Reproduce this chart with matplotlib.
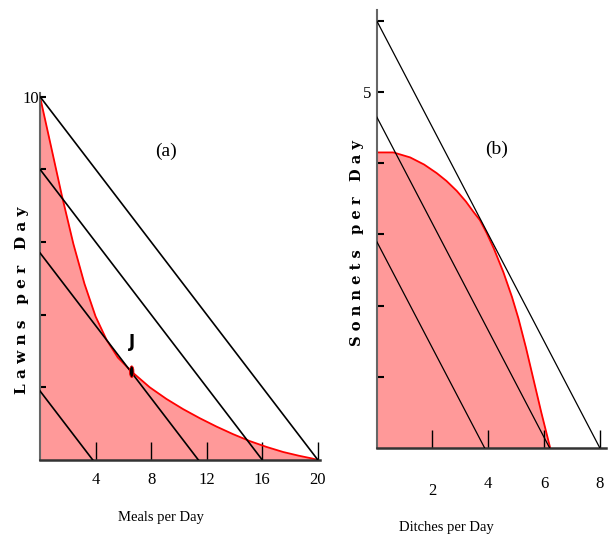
import matplotlib
matplotlib.use("Agg")
import matplotlib.pyplot as plt
import matplotlib.transforms as mtransforms
from matplotlib.patches import Ellipse

# ---------------- data ----------------
# Panel (a): production possibility curve (Meals vs Lawns)
a_curve_x = [0, 0.8, 1.56, 2.4, 3.2, 4.0, 4.8, 5.6, 6.6, 7.9, 9.1, 10.3, 11.5,
             12.7, 13.9, 15.1, 16.3, 17.5, 18.6, 19.6, 20]
a_curve_y = [10, 8.62, 7.3, 5.95, 4.85, 3.95, 3.3, 2.82, 2.43, 2.0, 1.68, 1.4, 1.15,
             0.92, 0.71, 0.52, 0.36, 0.22, 0.12, 0.04, 0]
# Panel (a): straight (price) lines, y-intercept and x-intercept
a_lines_y0 = [10, 8, 5.7, 1.9]
a_lines_x0 = [20, 16, 11.4, 3.8]
a_point_J = (6.6, 2.43)
a_xticks = [4, 8, 12, 16, 20]
a_xticklabels = ["4", "8", "12", "16", "20"]
a_yticks = [2, 4, 6, 8, 10]
a_yticklabels = ["", "", "", "", "10"]

# Panel (b): production possibility curve (Ditches vs Sonnets)
b_curve_x = [0, 0.6, 1.2, 1.7, 2.15, 2.5, 2.87, 3.2, 3.46, 3.7, 3.94, 4.2, 4.54,
             4.85, 5.08, 5.35, 5.61, 5.9, 6.22]
b_curve_y = [4.15, 4.15, 4.08, 3.98, 3.86, 3.75, 3.61, 3.46, 3.32, 3.2, 3.02, 2.8,
             2.47, 2.12, 1.82, 1.41, 0.98, 0.5, 0]
b_lines_y0 = [6, 4.65, 2.9]
b_lines_x0 = [8, 6.2, 3.87]
b_xticks = [2, 4, 6, 8]
b_xticklabels = ["2", "4", "6", "8"]
b_yticks = [1, 2, 3, 4, 5, 6]
b_yticklabels = ["", "", "", "", "5", ""]

FILL = "#ff9999"
EDGE = "#ff0000"
SERIF = "Liberation Serif"

fig = plt.figure(figsize=(6.09, 5.37), dpi=100)

# ---------------- panel (a) ----------------
axa = fig.add_axes([40 / 609, 1 - 460 / 537, 280 / 609, 367 / 537])
axa.fill_between(a_curve_x, a_curve_y, 0, color=FILL, lw=0, zorder=1)
axa.plot(a_curve_x, a_curve_y, color=EDGE, lw=1.3, zorder=2)
for y0, x0 in zip(a_lines_y0, a_lines_x0):
    axa.plot([0, x0], [y0, 0], color="black", lw=1.2, zorder=3)
axa.add_patch(Ellipse(a_point_J, 0.32, 0.32, facecolor="black", edgecolor=EDGE,
                      lw=0.6, zorder=4))
axa.text(6.65, 3.25, "J", ha="center", va="center", fontsize=12,
         family="DejaVu Sans", fontweight="bold", zorder=5)
axa.text(9.1, 8.5, "(a)", ha="center", va="center", fontsize=14, family=SERIF)
axa.set_xlim(0, 20.15)
axa.set_ylim(0, 10.1)
axa.set_xticks(a_xticks)
axa.set_xticklabels(a_xticklabels)
axa.set_yticks(a_yticks)
axa.set_yticklabels(a_yticklabels)
axa.tick_params(axis="x", direction="in", length=13, width=1, pad=9,
                labelsize=12)
axa.tick_params(axis="y", direction="in", length=4.5, width=1.5, pad=1,
                labelsize=12)

# ---------------- panel (b) ----------------
axb = fig.add_axes([376.7 / 609, 1 - 448 / 537, 229.3 / 609, 438 / 537])
axb.fill_between(b_curve_x, b_curve_y, 0, color=FILL, lw=0, zorder=1)
axb.plot(b_curve_x, b_curve_y, color=EDGE, lw=1.3, zorder=2)
for y0, x0 in zip(b_lines_y0, b_lines_x0):
    axb.plot([0, x0], [y0, 0], color="black", lw=0.9, zorder=3)
axb.text(4.28, 4.19, "(b)", ha="center", va="center", fontsize=14, family=SERIF)
axb.set_xlim(0, 8.22)
axb.set_ylim(0, 6.15)
axb.set_xticks(b_xticks)
axb.set_xticklabels(b_xticklabels)
axb.set_yticks(b_yticks)
axb.set_yticklabels(b_yticklabels)
axb.tick_params(axis="x", direction="in", length=13, width=1, pad=20,
                labelsize=12)
axb.tick_params(axis="y", direction="in", length=5, width=1.5, pad=4,
                labelsize=12)

for ax in (axa, axb):
    for s in ("top", "right"):
        ax.spines[s].set_visible(False)
    ax.spines["left"].set_color("#666666")
    ax.spines["left"].set_linewidth(1.5)
    ax.spines["bottom"].set_color("#333333")
    ax.spines["bottom"].set_linewidth(1.8)
    for lab in ax.get_xticklabels() + ax.get_yticklabels():
        lab.set_family(SERIF)

# "2" label on panel (b) sits a little lower in the reference
lab2 = axb.get_xticklabels()[0]
lab2.set_transform(lab2.get_transform() +
                   mtransforms.ScaledTranslation(0, -7 / 100, fig.dpi_scale_trans))

# ---------------- axis titles ----------------
fig.text(161 / 609, 1 - 518 / 537, "Meals per Day", ha="center", va="center",
         fontsize=10.5, family=SERIF)
fig.text(446 / 609, 1 - 527 / 537, "Ditches per Day", ha="center", va="center",
         fontsize=10.5, family=SERIF)
fig.text(22 / 609, 1 - 300 / 537, "L a w n s   p e r   D a y", rotation=90,
         ha="center", va="center", fontsize=11, family="DejaVu Serif",
         fontweight="bold")
fig.text(357 / 609, 1 - 243 / 537, "S o n n e t s   p e r   D a y", rotation=90,
         ha="center", va="center", fontsize=10.5, family="DejaVu Serif",
         fontweight="bold")

fig.savefig("out.png", dpi=100)
